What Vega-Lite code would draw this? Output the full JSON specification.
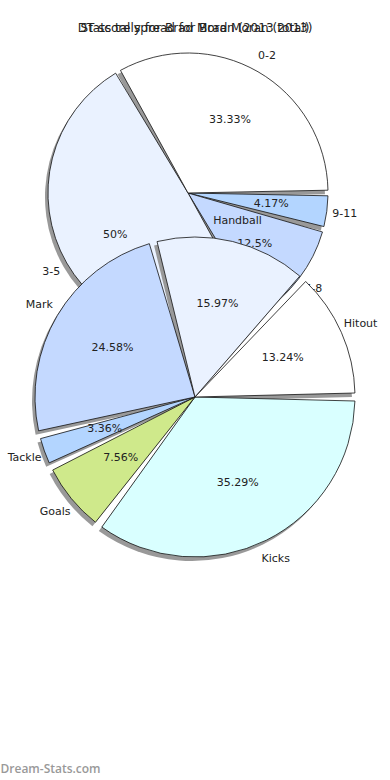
{
  "$schema": "https://vega.github.io/schema/vega-lite/v6.json",
  "width": 390,
  "height": 716,
  "padding": {"top": 22, "left": 0, "right": 0, "bottom": 0},
  "background": "white",
  "title": {
    "text": "Stats tally for Brad Moran (2013 total)",
    "subtitle": "DT score spread for Brad Moran (2013)",
    "subtitlePadding": -12,
    "fontSize": 12,
    "subtitleFontSize": 12,
    "font": "DejaVu Sans",
    "subtitleFont": "DejaVu Sans",
    "fontWeight": "normal",
    "color": "#222",
    "subtitleColor": "#222",
    "anchor": "middle",
    "offset": 6
  },
  "config": {"view": {"stroke": null}},
  "datasets": {
    "dt": [
      {"chart": "DT", "k": 1, "cat": "9-11", "share": 0.0417},
      {"chart": "DT", "k": 2, "cat": "6-8", "share": 0.125},
      {"chart": "DT", "k": 3, "cat": "3-5", "share": 0.5},
      {"chart": "DT", "k": 4, "cat": "0-2", "share": 0.3333}
    ],
    "stats": [
      {"chart": "Stats", "k": 1, "cat": "Kicks", "share": 0.3529},
      {"chart": "Stats", "k": 2, "cat": "Goals", "share": 0.0756},
      {"chart": "Stats", "k": 3, "cat": "Tackle", "share": 0.0336},
      {"chart": "Stats", "k": 4, "cat": "Mark", "share": 0.2458},
      {"chart": "Stats", "k": 5, "cat": "Handball", "share": 0.1597},
      {"chart": "Stats", "k": 6, "cat": "Hitout", "share": 0.1324}
    ]
  },
  "encoding": {
    "x": {
      "field": "chart", "type": "nominal",
      "scale": {"type": "point", "domain": ["DT", "Stats"], "range": [188, 195], "padding": 0},
      "title": "Dream-Stats.com",
      "axis": {"labels": false, "ticks": false, "domain": false, "grid": false, "titleAnchor": "start", "titleAlign": "left", "titleX": 0, "titleColor": "#999", "titleFont": "Open Sans", "titleFontSize": 12, "titleFontWeight": 600, "titlePadding": 6}
    },
    "y": {
      "field": "chart", "type": "nominal",
      "scale": {"type": "point", "domain": ["DT", "Stats"], "range": [152, 356], "padding": 0},
      "axis": null
    },
    "theta": {"field": "share", "type": "quantitative", "stack": true, "scale": {"domain": [0, 1], "range": [1.5708, 7.854]}},
    "order": {"field": "k", "type": "quantitative"}
  },
  "layer": [
    {
      "data": {"name": "dt"},
      "mark": {"type": "arc", "radius": 140, "padAngle": 0.04, "fill": "#999", "xOffset": -3, "yOffset": 4},
      "encoding": {"detail": {"field": "cat"}}
    },
    {
      "data": {"name": "dt"},
      "mark": {"type": "arc", "radius": 140, "padAngle": 0.04, "stroke": "#111", "strokeWidth": 0.8, "opacity": 1},
      "encoding": {
        "color": {"field": "cat", "type": "nominal", "legend": null,
          "scale": {"domain": ["Kicks", "Goals", "Tackle", "Mark", "Handball", "Hitout", "9-11", "6-8", "3-5", "0-2"],
                    "range": ["#d9ffff", "#cfe98b", "#b3d5ff", "#c4d9ff", "#eaf2ff", "#ffffff", "#b3d5ff", "#c4d9ff", "#eaf2ff", "#ffffff"]}}
      }
    },
    {
      "data": {"name": "dt"},
      "mark": {"type": "text", "radius": 84, "font": "DejaVu Sans", "fontSize": 11, "fill": "#222"},
      "encoding": {"text": {"field": "share", "format": ".4~p"}, "detail": {"field": "cat"}}
    },
    {
      "data": {"name": "dt"},
      "mark": {"type": "text", "radius": 158, "font": "DejaVu Sans", "fontSize": 11, "fill": "#222"},
      "encoding": {"text": {"field": "cat"}, "detail": {"field": "cat"}}
    },
    {
      "data": {"name": "stats"},
      "mark": {"type": "arc", "radius": 160, "padAngle": 0.05, "fill": "#999", "xOffset": -3, "yOffset": 4},
      "encoding": {"detail": {"field": "cat"}}
    },
    {
      "data": {"name": "stats"},
      "mark": {"type": "arc", "radius": 160, "padAngle": 0.05, "stroke": "#111", "strokeWidth": 0.8, "opacity": 1},
      "encoding": {
        "color": {"field": "cat", "type": "nominal", "legend": null,
          "scale": {"domain": ["Kicks", "Goals", "Tackle", "Mark", "Handball", "Hitout", "9-11", "6-8", "3-5", "0-2"],
                    "range": ["#d9ffff", "#cfe98b", "#b3d5ff", "#c4d9ff", "#eaf2ff", "#ffffff", "#b3d5ff", "#c4d9ff", "#eaf2ff", "#ffffff"]}}
      }
    },
    {
      "data": {"name": "stats"},
      "mark": {"type": "text", "radius": 96, "font": "DejaVu Sans", "fontSize": 11, "fill": "#222"},
      "encoding": {"text": {"field": "share", "format": ".4~p"}, "detail": {"field": "cat"}}
    },
    {
      "data": {"name": "stats"},
      "mark": {"type": "text", "radius": 181, "font": "DejaVu Sans", "fontSize": 11, "fill": "#222"},
      "encoding": {"text": {"field": "cat"}, "detail": {"field": "cat"}}
    }
  ]
}
